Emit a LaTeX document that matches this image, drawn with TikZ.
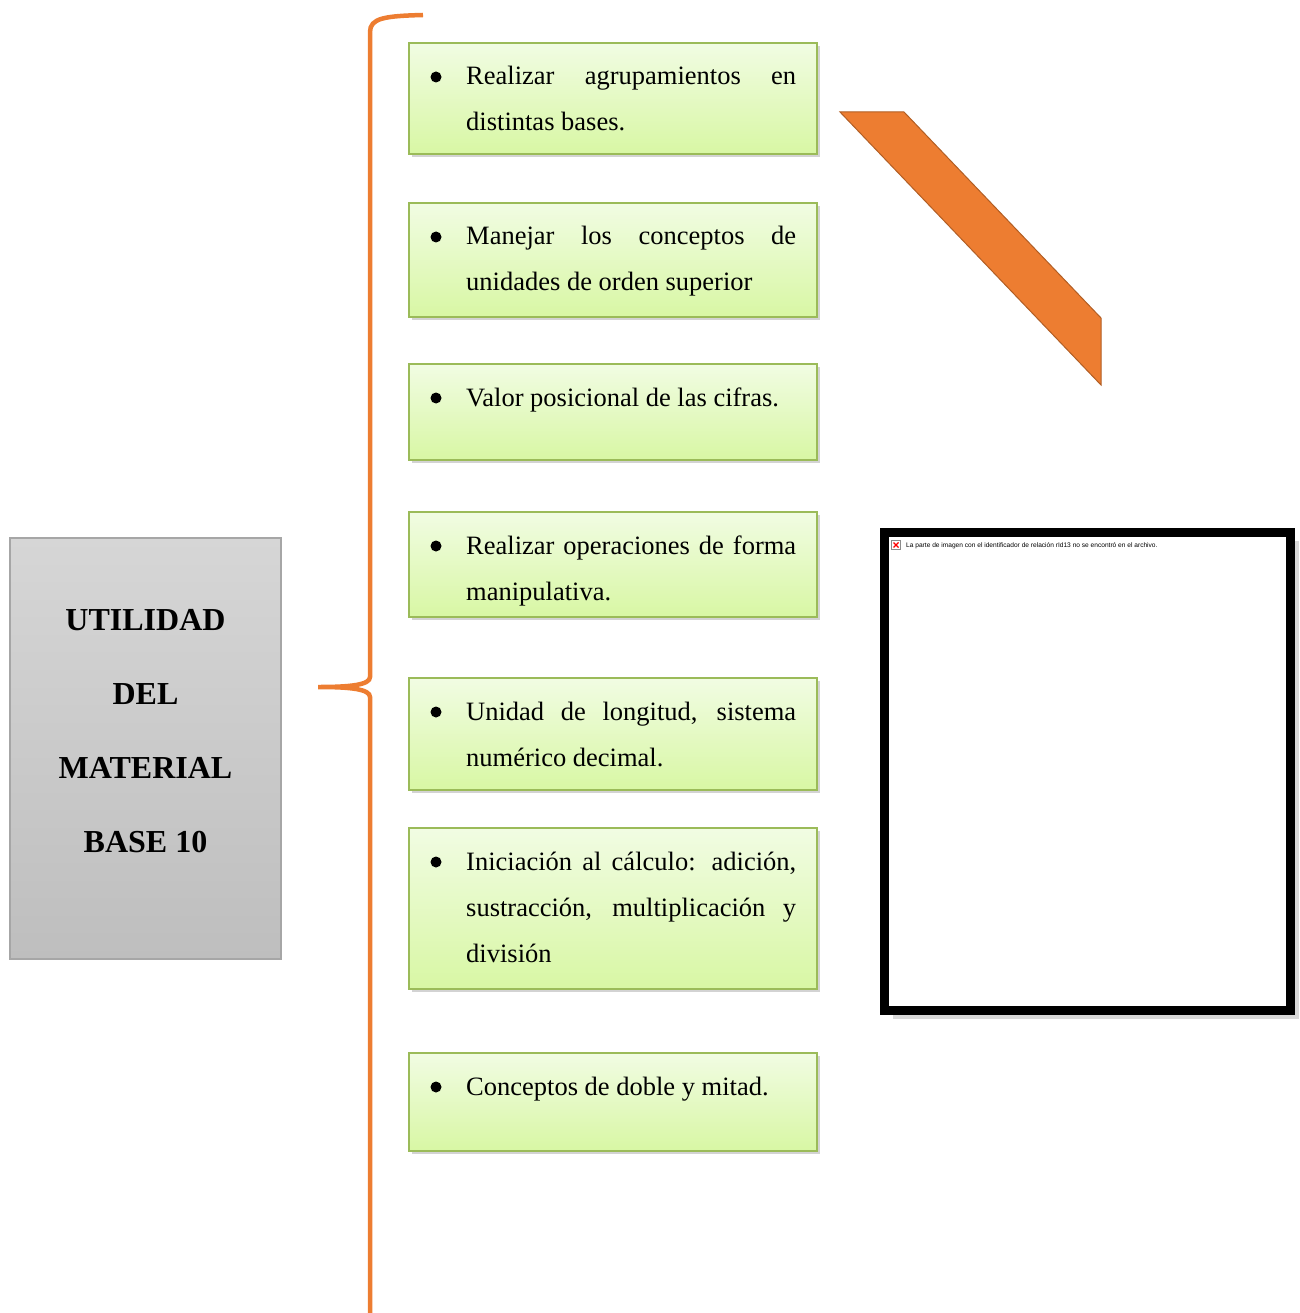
\documentclass[tikz,border=0pt]{standalone}
\usepackage{fontspec}
\setmainfont{Liberation Serif}
\newfontfamily\notefont{Liberation Sans}
\usetikzlibrary{shadows}

\definecolor{brace}{HTML}{ED7D31}
\definecolor{arrowedge}{HTML}{B15E24}
\definecolor{itemedge}{HTML}{9BBB59}
\definecolor{itemtop}{HTML}{F1FCE3}
\definecolor{itembot}{HTML}{D8F7A4}
\definecolor{titletop}{HTML}{D6D6D6}
\definecolor{titlebot}{HTML}{BEBEBE}

\tikzset{
  itembox/.style={draw=itemedge, line width=1.6pt, top color=itemtop, bottom color=itembot,
    minimum width=408pt, inner sep=0pt, anchor=north west,
    drop shadow={shadow xshift=3pt, shadow yshift=-3.5pt, opacity=0.35}},
  dot/.style={circle, fill=black, minimum size=11pt, inner sep=0pt},
  itemtext/.style={anchor=base west, inner sep=0pt, font=\fontsize{26.5}{46}\selectfont},
  titlebox/.style={draw=black!35, line width=1.2pt, top color=titletop, bottom color=titlebot,
    minimum width=271pt, minimum height=421pt, inner sep=0pt},
  titletext/.style={align=center, inner sep=0pt, font=\fontsize{32}{74}\selectfont\bfseries}
}

\begin{document}
\begin{tikzpicture}[x=1pt, y=-1pt]

  \useasboundingbox (0,0) rectangle (1299,1313);

  % left title
  \node[titlebox] (title) at (145.5,748.5) {};
  \node[titletext] (titletxt) at (145.5,731.5) {UTILIDAD\\DEL\\MATERIAL\\BASE 10};

  % brace
  \draw[brace, line width=4.5pt] (423,15) .. controls (385,16) and (370,18) .. (370,32)
    -- (370,677) .. controls (370,685) and (350,687) .. (318,687)
    .. controls (350,687) and (370,689) .. (370,697) -- (370,1313);

  % items
  \foreach \n/\top/\bot/\txt in {
      1/42/153/{Realizar agrupamientos en distintas bases.},
      2/202/316/{Manejar los conceptos de unidades de orden superior},
      3/363/459/{Valor posicional de las cifras.},
      4/511/616/{Realizar operaciones de forma manipulativa.},
      5/677/789/{Unidad de longitud, sistema num\'erico decimal.},
      6/827/988/{Iniciaci\'on al c\'alculo: adici\'on, sustracci\'on, multiplicaci\'on y divisi\'on},
      7/1052/1150/{Conceptos de doble y mitad.}}{
    \node[itembox, minimum height=\bot pt-\top pt] (box\n) at (408,\top) {};
    \node[dot] (dot\n) at ([shift={(28pt,-35pt)}]box\n.north west) {};
    \node[itemtext] (txt\n) at ([shift={(58pt,-43pt)}]box\n.north west)
      {\parbox[t]{330pt}{\hyphenpenalty=10000\tolerance=9999\txt}};
  }

  % orange band
  \filldraw[fill=brace, draw=arrowedge, line width=1pt]
    (840,112) -- (904,112) -- (1101,318) -- (1101,385) -- cycle;

  % missing picture frame
  \draw[line width=9pt, fill=white,
    drop shadow={shadow xshift=8pt, shadow yshift=-8pt, opacity=0.3}]
    (884.5,532.5) rectangle (1290.5,1010.5);
  \node[draw=black!45, fill=white, minimum size=9pt, inner sep=0pt] (icon) at (896,545) {};
  \draw[red, line width=1.2pt] ([shift={(-2.5pt,-2.5pt)}]icon.center) -- ([shift={(2.5pt,2.5pt)}]icon.center);
  \draw[red, line width=1.2pt] ([shift={(-2.5pt,2.5pt)}]icon.center) -- ([shift={(2.5pt,-2.5pt)}]icon.center);
  \node[anchor=base west, inner sep=0pt, font=\notefont\fontsize{6.6}{8}\selectfont] (note)
    at (906,547) {La parte de imagen con el identificador de relación rId13 no se encontró en el archivo.};

\end{tikzpicture}
\end{document}
